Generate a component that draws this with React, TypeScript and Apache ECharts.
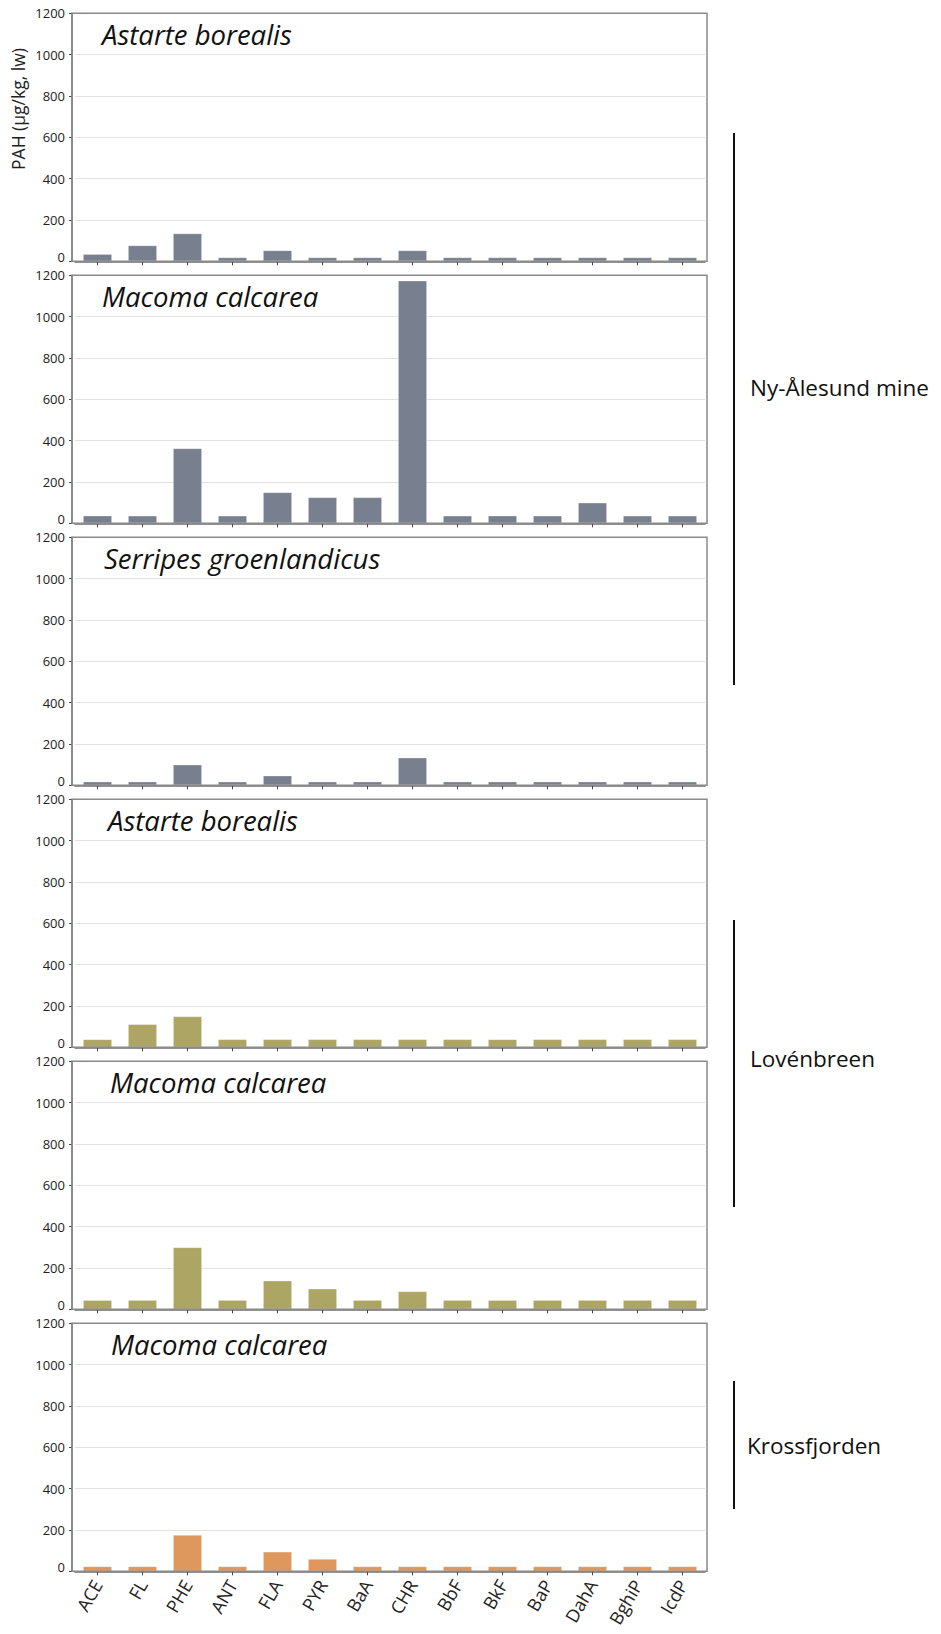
import React, { useEffect, useRef } from "react";
import * as echarts from "echarts";

const categories = ["ACE", "FL", "PHE", "ANT", "FLA", "PYR", "BaA", "CHR", "BbF", "BkF", "BaP", "DahA", "BghiP", "IcdP"];
const yMin = 0;
const yMax = 1200;
const yStep = 200;

const nyAlesundAstarte = [35, 77, 135, 19, 53, 19, 19, 53, 19, 19, 19, 19, 19, 19];
const nyAlesundMacoma = [37, 37, 363, 37, 150, 126, 126, 1174, 37, 37, 37, 100, 37, 37];
const nyAlesundSerripes = [18, 18, 100, 18, 47, 18, 18, 134, 18, 18, 18, 18, 18, 18];
const lovenAstarte = [39, 112, 150, 39, 39, 39, 39, 39, 39, 39, 39, 39, 39, 39];
const lovenMacoma = [45, 45, 300, 45, 139, 100, 45, 87, 45, 45, 45, 45, 45, 45];
const krossMacoma = [24, 24, 176, 24, 95, 60, 24, 24, 24, 24, 24, 24, 24, 24];

const panelSeries = [nyAlesundAstarte, nyAlesundMacoma, nyAlesundSerripes, lovenAstarte, lovenMacoma, krossMacoma];
const speciesNames = ["Astarte borealis", "Macoma calcarea", "Serripes groenlandicus", "Astarte borealis", "Macoma calcarea", "Macoma calcarea"];
const panelColors = ["#788090", "#788090", "#788090", "#ADA563", "#ADA563", "#DE985E"];
const regionNames = ["Ny-Ålesund mine", "Lovénbreen", "Krossfjorden"];
const yAxisTitle = "PAH (µg/kg, lw)";

export default function App() {
  const ref = useRef<HTMLDivElement>(null);
  useEffect(() => {
    if (!ref.current) return;
    const chart = echarts.init(ref.current, undefined, { renderer: "svg" });
    const font = '"Open Sans", "Noto Sans", sans-serif';
    const top0 = 13.3;
    const pitch = 262;
    const ph = 248;
    const gLeft = 75;
    const gWidth = 630;

    const grids: any[] = [];
    const xAxes: any[] = [];
    const yAxes: any[] = [];
    const series: any[] = [];
    const graphics: any[] = [];
    const speciesX = [102, 102, 104, 108, 110, 111];

    for (let i = 0; i < 6; i++) {
      const top = top0 + pitch * i;
      grids.push({ left: gLeft, top, width: gWidth, height: ph, containLabel: false });
      xAxes.push({
        type: "category",
        gridIndex: i,
        data: categories,
        boundaryGap: true,
        axisLine: { show: true, lineStyle: { color: "#6e6e6e", width: 1.5 } },
        axisTick: { show: true, alignWithLabel: true, length: 4, lineStyle: { color: "#444", width: 1 } },
        axisLabel: {
          show: i === 5,
          rotate: 60,
          fontSize: 18,
          fontFamily: font,
          color: "#222",
          margin: 10,
        },
        splitLine: { show: false },
      });
      yAxes.push({
        type: "value",
        gridIndex: i,
        min: yMin,
        max: yMax,
        interval: yStep,
        offset: 3,
        axisLine: { show: true, lineStyle: { color: "#6e6e6e", width: 1.5 } },
        axisTick: { show: true, length: 3, lineStyle: { color: "#444" } },
        axisLabel: {
          fontSize: 13,
          fontFamily: font,
          color: "#222",
          margin: 7,
          formatter: (v: number) => (v === 0 ? "{z|0}" : String(v)),
          rich: {
            z: { fontSize: 13, fontFamily: font, color: "#222", padding: [0, 0, 8, 0] },
          },
        },
        splitLine: { show: true, lineStyle: { color: "#e2e2e2", width: 1 } },
      });
      series.push({
        type: "bar",
        xAxisIndex: i,
        yAxisIndex: i,
        data: panelSeries[i],
        barWidth: 29,
        itemStyle: { color: panelColors[i], borderColor: "rgba(255,255,255,0.35)", borderWidth: 0.8 },
      });
      graphics.push({
        type: "rect",
        shape: { x: 72, y: top, width: 635, height: ph },
        style: { fill: "none", stroke: "#8a8a8a", lineWidth: 1.5 },
        z: 5,
        silent: true,
      });
      graphics.push({
        type: "text",
        x: speciesX[i],
        y: top + 21,
        style: {
          text: speciesNames[i],
          fontSize: 27.5,
          fontStyle: "italic",
          fontFamily: font,
          fill: "#111",
          align: "left",
          verticalAlign: "middle",
        },
        z: 6,
      });
    }

    graphics.push({
      type: "text",
      x: 18,
      y: 109,
      rotation: Math.PI / 2,
      style: {
        text: yAxisTitle,
        fontSize: 17.5,
        fontFamily: font,
        fill: "#222",
        align: "center",
        verticalAlign: "middle",
      },
    });

    const brackets = [
      { y1: 133, y2: 685, ty: 387, tx: 750 },
      { y1: 920, y2: 1207, ty: 1058, tx: 750 },
      { y1: 1381, y2: 1509, ty: 1445, tx: 747 },
    ];
    brackets.forEach((b, k) => {
      graphics.push({
        type: "line",
        shape: { x1: 734, y1: b.y1, x2: 734, y2: b.y2 },
        style: { stroke: "#111", lineWidth: 2 },
      });
      graphics.push({
        type: "text",
        x: b.tx,
        y: b.ty,
        style: {
          text: regionNames[k],
          fontSize: 22.5,
          fontFamily: font,
          fill: "#111",
          align: "left",
          verticalAlign: "middle",
        },
      });
    });

    chart.setOption({
      animation: false,
      backgroundColor: "#ffffff",
      grid: grids,
      xAxis: xAxes,
      yAxis: yAxes,
      series,
      graphic: graphics,
    });
    return () => chart.dispose();
  }, []);
  return <div ref={ref} style={{ position: "absolute", left: 0, top: 0, width: 941, height: 1634 }} />;
}
